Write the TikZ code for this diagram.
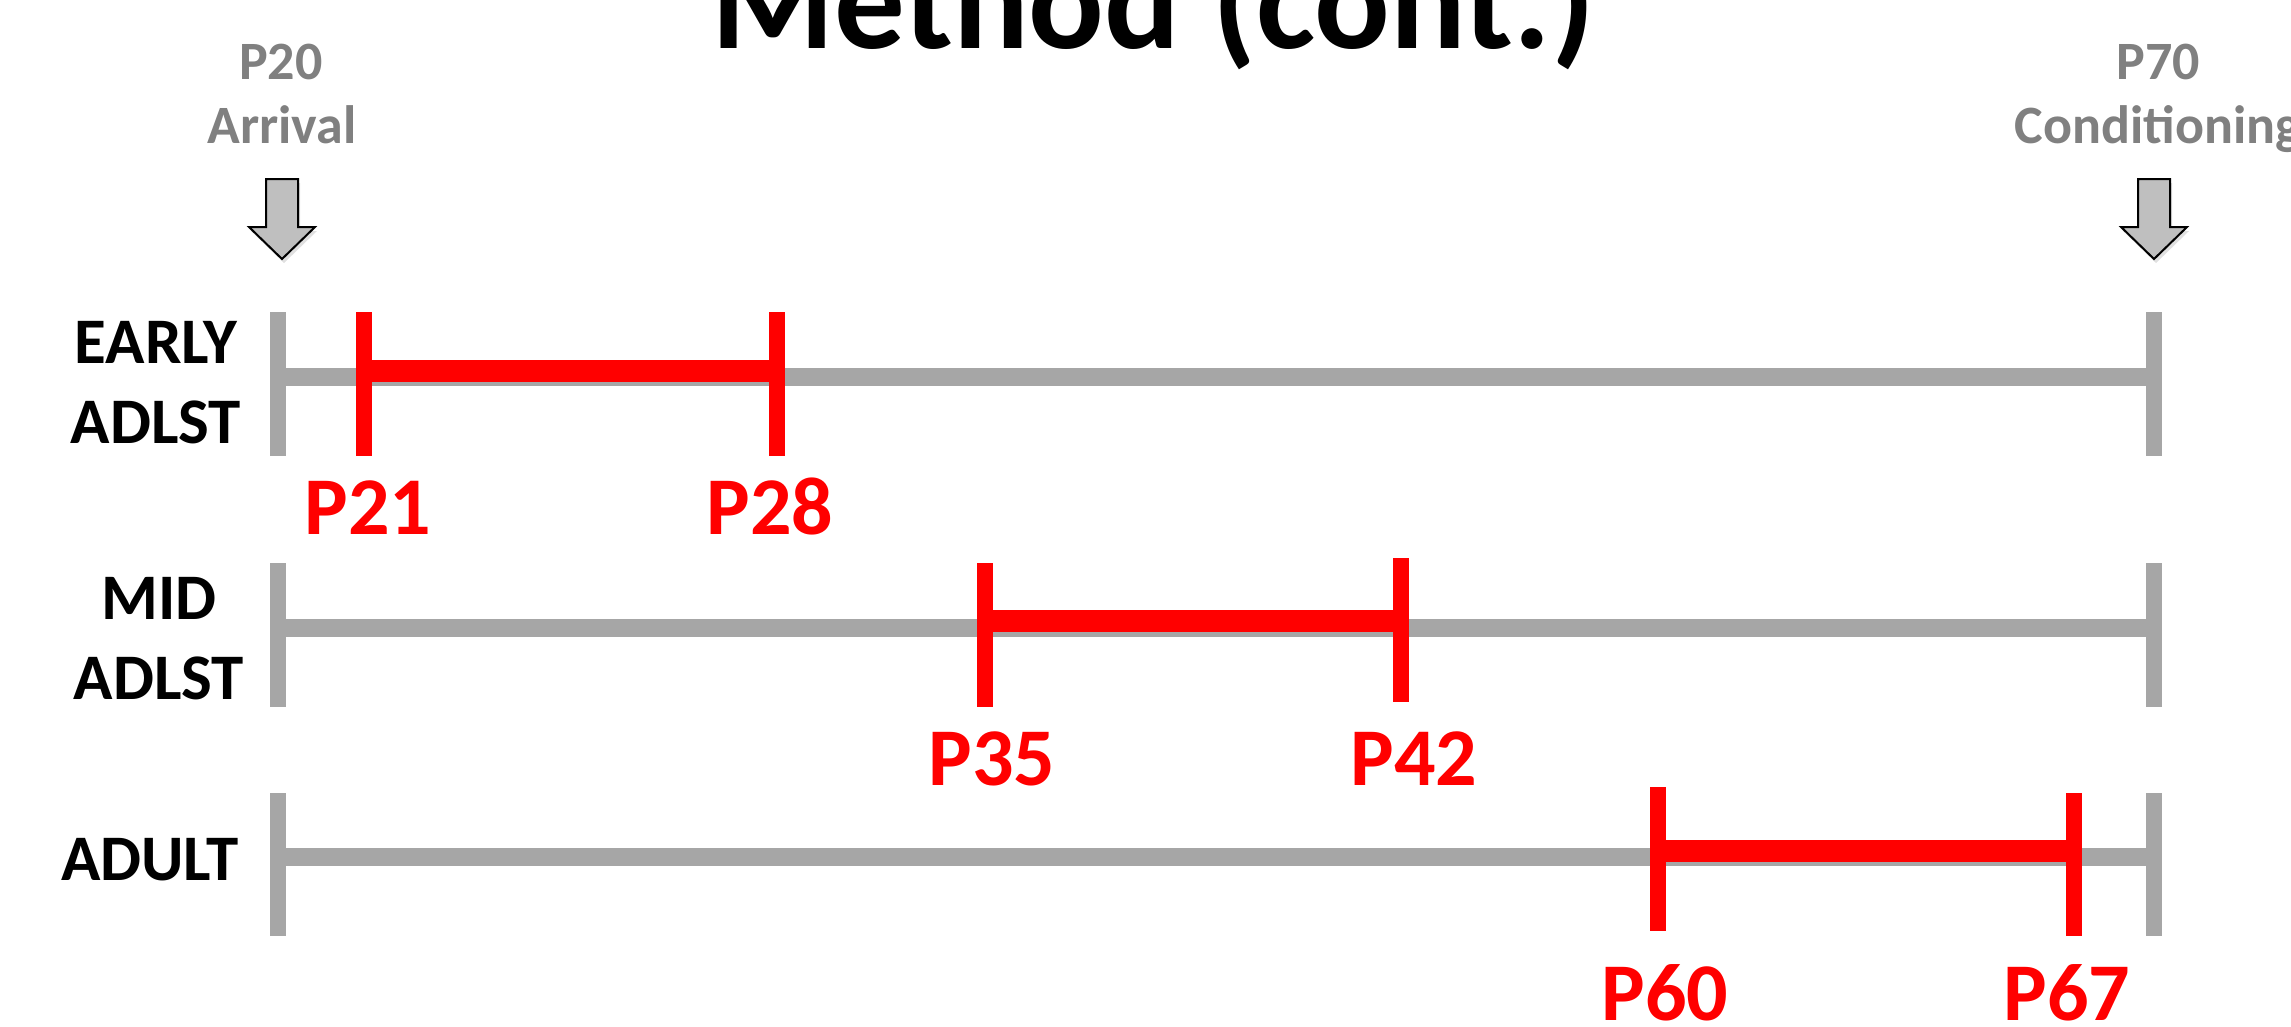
\documentclass[tikz,border=0pt]{standalone}
\usepackage{fontspec}
\setmainfont{Carlito}
\definecolor{axisgray}{HTML}{A6A6A6}
\definecolor{labelgray}{HTML}{808080}
\definecolor{arrowgray}{HTML}{BFBFBF}
\definecolor{barred}{HTML}{FF0000}
\begin{document}
\begin{tikzpicture}[x=1pt,y=-1pt,
  shadowline/.style={draw=black, opacity=0.10},
  grayline/.style={draw=axisgray, line width=18pt},
  graytick/.style={draw=axisgray, line width=16pt},
  redbar/.style={draw=barred, line width=22pt},
  redtick/.style={draw=barred, line width=16pt},
  toplabel/.style={text=labelgray, font=\fontsize{54}{58}\selectfont\bfseries, anchor=base, inner sep=0pt},
  rowlabel/.style={text=black, font=\fontsize{65}{70}\selectfont\bfseries, anchor=base, inner sep=0pt},
  daylabel/.style={text=barred, font=\fontsize{82}{86}\selectfont\bfseries, anchor=base, inner sep=0pt},
  downarrow/.style={draw=black, fill=arrowgray, line width=2pt, line join=miter},
  arrowshadow/.style={fill=black, opacity=0.12}]
\useasboundingbox (0,0) rectangle (2291,1026);

% title
\node[anchor=base, inner sep=0pt, font=\fontsize{141}{150}\selectfont\bfseries] (title) at (1153,48) {Method (cont.)};

% top labels
\node[toplabel] (p20) at (281,79) {P20};
\node[toplabel] (arrival) at (282,143) {Arrival};
\node[toplabel] (p70) at (2158,79) {P70};
\node[toplabel] (cond) at (2158,143) {Conditioning};

% down arrows (shadow, then arrow)
\fill[arrowshadow] (267,183) -- (300,183) -- (300,231) -- (317,231) -- (284,263) -- (251,231) -- (267,231) -- cycle;
\fill[arrowshadow] (2140,183) -- (2172,183) -- (2172,231) -- (2189,231) -- (2156,263) -- (2123,231) -- (2140,231) -- cycle;
\draw[downarrow] (266,179) -- (298,179) -- (298,227) -- (315,227) -- (282,259) -- (249,227) -- (266,227) -- cycle;
\draw[downarrow] (2138,179) -- (2170,179) -- (2170,227) -- (2187,227) -- (2154,259) -- (2121,227) -- (2138,227) -- cycle;

% row labels
\node[rowlabel] (early) at (156,363) {EARLY};
\node[rowlabel] (adlst1) at (156,443) {ADLST};
\node[rowlabel] (mid) at (159,619) {MID};
\node[rowlabel] (adlst2) at (159,699) {ADLST};
\node[rowlabel] (adult) at (150,880) {ADULT};

% coordinates: gray axes
\coordinate (aL) at (278,377);  \coordinate (aR) at (2154,377);
\coordinate (bL) at (278,628);  \coordinate (bR) at (2154,628);
\coordinate (cL) at (278,857);  \coordinate (cR) at (2154,857);
% gray ticks
\coordinate (aLt) at (278,312); \coordinate (aLb) at (278,456);
\coordinate (aRt) at (2154,312); \coordinate (aRb) at (2154,456);
\coordinate (bLt) at (278,563); \coordinate (bLb) at (278,707);
\coordinate (bRt) at (2154,563); \coordinate (bRb) at (2154,707);
\coordinate (cLt) at (278,793); \coordinate (cLb) at (278,936);
\coordinate (cRt) at (2154,793); \coordinate (cRb) at (2154,936);
% red ticks
\coordinate (r21t) at (364,312);  \coordinate (r21b) at (364,456);
\coordinate (r28t) at (777,312);  \coordinate (r28b) at (777,456);
\coordinate (r35t) at (985,563);  \coordinate (r35b) at (985,707);
\coordinate (r42t) at (1401,558); \coordinate (r42b) at (1401,702);
\coordinate (r60t) at (1658,787); \coordinate (r60b) at (1658,931);
\coordinate (r67t) at (2074,793); \coordinate (r67b) at (2074,936);
% red bars
\coordinate (r21m) at (364,371); \coordinate (r28m) at (777,371);
\coordinate (r35m) at (985,621); \coordinate (r42m) at (1401,621);
\coordinate (r60m) at (1658,851); \coordinate (r67m) at (2074,851);

% shadows
\begin{scope}[shift={(1,5)}]
  \foreach \u/\v in {aL/aR,bL/bR,cL/cR} \draw[shadowline, line width=18pt] (\u) -- (\v);
  \foreach \u/\v in {aLt/aLb,aRt/aRb,bLt/bLb,bRt/bRb,cLt/cLb,cRt/cRb,r21t/r21b,r28t/r28b,r35t/r35b,r42t/r42b,r60t/r60b,r67t/r67b} \draw[shadowline, line width=16pt] (\u) -- (\v);
\end{scope}

% gray axes and ticks
\draw[grayline] (aL) -- (aR);
\draw[grayline] (bL) -- (bR);
\draw[grayline] (cL) -- (cR);
\foreach \u/\v in {aLt/aLb,aRt/aRb,bLt/bLb,bRt/bRb,cLt/cLb,cRt/cRb} \draw[graytick] (\u) -- (\v);

% red bars and ticks
\draw[redbar] (r21m) -- (r28m);
\draw[redbar] (r35m) -- (r42m);
\draw[redbar] (r60m) -- (r67m);
\foreach \u/\v in {r21t/r21b,r28t/r28b,r35t/r35b,r42t/r42b,r60t/r60b,r67t/r67b} \draw[redtick] (\u) -- (\v);

% day labels
\node[daylabel] (l21) at (368,534) {P21};
\node[daylabel] (l28) at (770,534) {P28};
\node[daylabel] (l35) at (992,785) {P35};
\node[daylabel] (l42) at (1414,785) {P42};
\node[daylabel] (l60) at (1665,1020) {P60};
\node[daylabel] (l67) at (2067,1020) {P67};
\end{tikzpicture}
\end{document}
